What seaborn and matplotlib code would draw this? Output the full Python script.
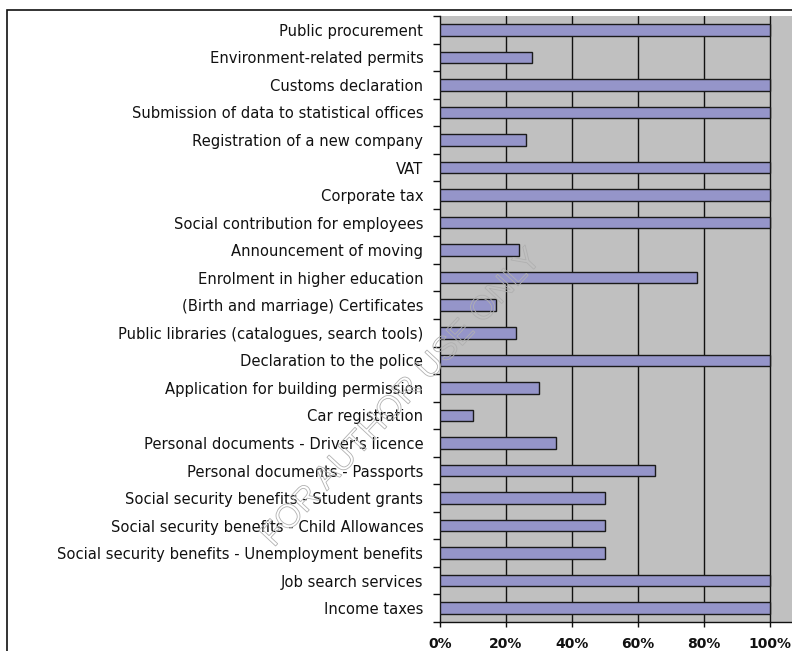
import matplotlib
matplotlib.use("Agg")
import matplotlib.pyplot as plt
import matplotlib.patheffects as pe
from matplotlib.patches import Rectangle
from matplotlib.ticker import FixedLocator
import pandas as pd
import seaborn as sns

services = [
    "Public procurement",
    "Environment-related permits",
    "Customs declaration",
    "Submission of data to statistical offices",
    "Registration of a new company",
    "VAT",
    "Corporate tax",
    "Social contribution for employees",
    "Announcement of moving",
    "Enrolment in higher education",
    "(Birth and marriage) Certificates",
    "Public libraries (catalogues, search tools)",
    "Declaration to the police",
    "Application for building permission",
    "Car registration",
    "Personal documents - Driver's licence",
    "Personal documents - Passports",
    "Social security benefits - Student grants",
    "Social security benefits - Child Allowances",
    "Social security benefits - Unemployment benefits",
    "Job search services",
    "Income taxes",
]
availability = [100, 28, 100, 100, 26, 100, 100, 100, 24, 78, 17, 23,
                100, 30, 10, 35, 65, 50, 50, 50, 100, 100]
x_ticks = [0, 20, 40, 60, 80, 100]
x_tick_labels = ["0%", "20%", "40%", "60%", "80%", "100%"]

df = pd.DataFrame({"service": services, "value": availability})

sns.set_style("white")
plt.rcParams["font.family"] = ["DejaVu Sans"]

W, H = 792, 651
fig = plt.figure(figsize=(W / 100, H / 100), dpi=100)
ax = fig.add_axes([440 / W, 1 - 622 / H, 352 / W, (622 - 16) / H])
ax.set_facecolor("#c0c0c0")

sns.barplot(data=df, y="service", x="value", orient="h", ax=ax,
            color="#9595c9", edgecolor="#1a1a1a", linewidth=1.0,
            width=0.42, saturation=1, zorder=3)

ax.set_xlim(0, 352 / 3.3)
ax.set_ylim(len(services) - 0.5, -0.5)
ax.set_xlabel("")
ax.set_ylabel("")

# vertical gridlines
for t in x_ticks[1:]:
    ax.axvline(t, color="#111111", lw=1.0, zorder=1)

ax.set_xticks(x_ticks)
ax.set_xticklabels(x_tick_labels, fontsize=10, fontweight="bold", color="#111111")
ax.tick_params(axis="x", which="major", direction="out", length=3.5, width=1.0,
               color="#111111", pad=7, bottom=True)

ax.tick_params(axis="y", which="major", length=0, pad=12, labelsize=10.6,
               labelcolor="#111111")
ax.yaxis.set_minor_locator(FixedLocator([i - 0.5 for i in range(len(services) + 1)]))
ax.tick_params(axis="y", which="minor", direction="out", length=5, width=1.0,
               color="#111111", left=True)

for side in ["top", "right"]:
    ax.spines[side].set_visible(False)
for side in ["left", "bottom"]:
    ax.spines[side].set_color("#111111")
    ax.spines[side].set_linewidth(1.0)

# outer chart frame
fig.patches.append(Rectangle((7 / W, -0.1), 2.0, 1 - 10 / H + 0.1,
                             transform=fig.transFigure, fill=False,
                             edgecolor="#111111", lw=1.2, zorder=0))

# watermark
fig.text(402 / W, 1 - 398 / H, "FOR AUTHOR USE ONLY", rotation=47,
         ha="center", va="center", fontsize=24, family="Liberation Sans",
         color="none", zorder=10,
         path_effects=[pe.PathPatchEffect(edgecolor="#b0b0b0",
                                          facecolor="none", linewidth=0.6)])

fig.savefig("out.png", dpi=100)
